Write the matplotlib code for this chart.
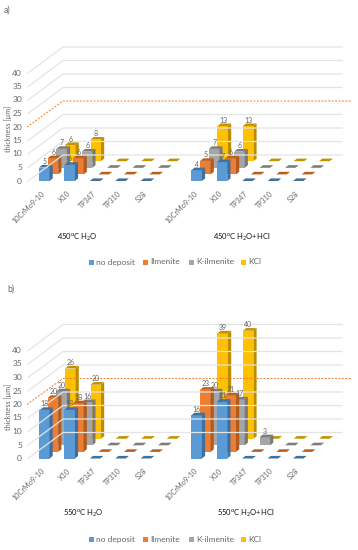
import matplotlib
matplotlib.use("Agg")
import matplotlib.pyplot as plt

plt.rcParams['font.family'] = ['Lato', 'DejaVu Sans']
plt.rcParams['mathtext.default'] = 'regular'

CATEGORIES = ["10CrMo9-10", "X10", "TP347", "TP310", "S28"]
SERIES = ["no deposit", "Ilmenite", "K-ilmenite", "KCl"]
AXIS_TICKS = [0, 5, 10, 15, 20, 25, 30, 35, 40]
LIMIT_LINE = 20

# one list per series, 5 alloys each
A_H2O_NO_DEPOSIT = [5, 6, 0, 0, 0]
A_H2O_ILMENITE = [6, 6, 0, 0, 0]
A_H2O_K_ILMENITE = [7, 6, 0, 0, 0]
A_H2O_KCL = [6, 8, 0, 0, 0]
A_HCL_NO_DEPOSIT = [4, 7, 0, 0, 0]
A_HCL_ILMENITE = [5, 6, 0, 0, 0]
A_HCL_K_ILMENITE = [7, 6, 0, 0, 0]
A_HCL_KCL = [13, 13, 0, 0, 0]

B_H2O_NO_DEPOSIT = [18, 18, 0, 0, 0]
B_H2O_ILMENITE = [20, 18, 0, 0, 0]
B_H2O_K_ILMENITE = [20, 16, 0, 0, 0]
B_H2O_KCL = [26, 20, 0, 0, 0]
B_HCL_NO_DEPOSIT = [16, 21, 0, 0, 0]
B_HCL_ILMENITE = [23, 21, 0, 0, 0]
B_HCL_K_ILMENITE = [20, 17, 3, 0, 0]
B_HCL_KCL = [39, 40, 0, 0, 0]

FRONT = ['#5b9bd5', '#ed7d31', '#a5a5a5', '#ffc000']
TOP = ['#41719c', '#b85f22', '#7c7c7c', '#c29200']
SIDE = ['#3f6f9f', '#ae5a20', '#787878', '#ba8c00']

GRID = '#e4e4e4'
TEXT = '#666666'

UNIT = 2.7      # px per um
STEP = 25.4     # px per category
BAR_W = 10.5
SIDE_X, SIDE_Y = 3.2, 2.6
DEPTH_X, DEPTH_Y = 8.7, 6.6
WALL_X, WALL_Y = 35, 26
LEFT = 39


def floor_point(cat, depth, base):
    return LEFT + cat * STEP + depth * DEPTH_X, base - depth * DEPTH_Y


def draw_bar(ax, cat, depth, value, base):
    x, y0 = floor_point(cat, depth, base)
    y1 = y0 - value * UNIT
    if value > 0:
        ax.fill([x, x + BAR_W, x + BAR_W, x], [y0, y0, y1, y1], color=FRONT[depth], lw=0)
        ax.fill([x + BAR_W, x + BAR_W + SIDE_X, x + BAR_W + SIDE_X, x + BAR_W],
                [y0, y0 - SIDE_Y, y1 - SIDE_Y, y1], color=SIDE[depth], lw=0)
    ax.fill([x, x + BAR_W, x + BAR_W + SIDE_X, x + SIDE_X],
            [y1, y1, y1 - SIDE_Y, y1 - SIDE_Y], color=TOP[depth], lw=0)
    if value > 0:
        ax.text(x + 5.5, y1 - 6, str(value), fontsize=5, color=TEXT, ha='center', va='center')


def draw_panel(ax, base, groups, name, title_pos):
    back = base - WALL_Y
    right = LEFT + 303
    # walls and gridlines
    for t in AXIS_TICKS:
        y = back - t * UNIT
        if t != LIMIT_LINE:
            ax.plot([LEFT - 11, LEFT + 24, right], [y + WALL_Y, y, y], color=GRID, lw=0.9)
        ax.text(22, y + WALL_Y, str(t), fontsize=6, color=TEXT, ha='right', va='center')
    ax.text(8, base - 52, "thickness [µm]", fontsize=5.2, color=TEXT, rotation=90,
            ha='center', va='center')

    # bars, back row first
    cats = [0, 1, 2, 3, 4]
    for depth in [3, 2, 1, 0]:
        for offset, vals in zip([6, 0], [groups[1], groups[0]]):
            for c in reversed(cats):
                draw_bar(ax, c + offset, depth, vals[depth][c], base)

    y = back - LIMIT_LINE * UNIT
    ax.plot([LEFT - 12, LEFT + 24, right + 10], [y + WALL_Y, y, y], color='#ed7d31', lw=0.7,
            dashes=(2, 1.5))

    # alloy labels
    for offset in [0, 6]:
        for c, label in enumerate(CATEGORIES):
            ax.text(LEFT + 5 + (c + offset) * STEP, base + 11, label, fontsize=5.2, color=TEXT,
                    rotation=45, rotation_mode='anchor', ha='right', va='center')

    ax.text(title_pos[0], base + title_pos[2], name[0], fontsize=5.5, color='#111111',
            ha='center', va='center')
    ax.text(title_pos[1], base + title_pos[2], name[1], fontsize=5.5, color='#111111',
            ha='center', va='center')

    # legend
    for i, label in enumerate(SERIES):
        lx = [89, 143, 189, 241][i]
        ax.fill([lx, lx + 5, lx + 5, lx], [base + 78.5, base + 78.5, base + 83.5, base + 83.5],
                color=FRONT[i], lw=0)
        ax.text(lx + 7.5, base + 81, label, fontsize=6, color=TEXT, ha='left', va='center')


fig = plt.figure(figsize=(3.58, 5.5), dpi=100)
ax = fig.add_axes([0, 0, 1, 1])
ax.set_xlim(0, 358)
ax.set_ylim(550, 0)
ax.axis('off')

draw_panel(ax, 181,
           [[A_H2O_NO_DEPOSIT, A_H2O_ILMENITE, A_H2O_K_ILMENITE, A_H2O_KCL],
            [A_HCL_NO_DEPOSIT, A_HCL_ILMENITE, A_HCL_K_ILMENITE, A_HCL_KCL]],
           ["450$^{o}$C H$_{2}$O", "450$^{o}$C H$_{2}$O+HCl"], (77, 242, 56))
draw_panel(ax, 458.5,
           [[B_H2O_NO_DEPOSIT, B_H2O_ILMENITE, B_H2O_K_ILMENITE, B_H2O_KCL],
            [B_HCL_NO_DEPOSIT, B_HCL_ILMENITE, B_HCL_K_ILMENITE, B_HCL_KCL]],
           ["550$^{o}$C H$_{2}$O", "550$^{o}$C H$_{2}$O+HCl"], (83, 246, 54.5))

ax.text(4, 10, "a)", fontsize=6.3, color=TEXT, ha='left', va='center')
ax.text(7, 289, "b)", fontsize=6.3, color=TEXT, ha='left', va='center')

fig.savefig("out.png", dpi=100)
